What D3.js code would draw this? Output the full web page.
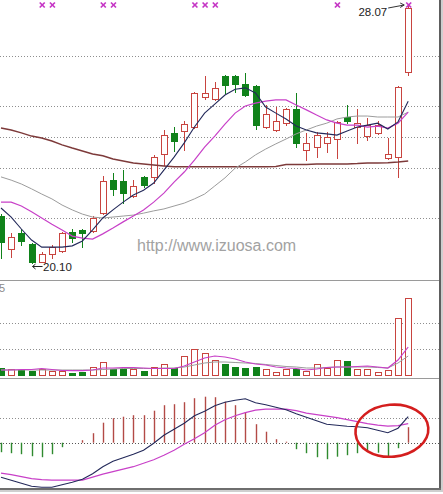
<!DOCTYPE html>
<html>
<head>
<meta charset="utf-8">
<script src="https://cdn.jsdelivr.net/npm/d3@7"></script>
<style>
  html, body { margin: 0; padding: 0; background: #fff; }
  svg { display: block; }
  text { font-family: Arial, "Liberation Sans", sans-serif; }
</style>
</head>
<body>
<svg id="chart" width="443" height="494"></svg>
<script>
// Daily candles (oldest first)
const openP  = [21.55,20.53,21.03,20.69,20.14,20.38,20.47,21.06,21.13,21.09,21.64,22.66,22.63,22.17,22.76,22.77,23.47,24.12,24.18,24.30,25.23,25.17,25.88,25.88,25.63,25.57,24.30,24.21,24.42,24.86,23.59,23.68,23.82,23.92,24.61,24.29,24.01,24.12,23.34,23.37,26.00];
const highP  = [21.60,21.03,21.15,20.72,20.44,20.66,21.05,21.15,21.14,21.55,22.79,22.88,22.97,22.66,22.79,23.44,24.21,24.30,24.50,25.37,25.89,25.69,25.90,25.90,25.97,25.59,24.97,24.92,24.88,25.35,24.12,24.15,24.15,24.48,24.98,24.86,24.58,24.50,23.96,25.57,28.07];
const lowP   = [20.25,20.29,20.66,20.10,20.12,20.25,20.45,20.75,20.59,21.06,21.62,22.20,21.95,22.15,22.45,22.57,23.13,23.56,23.59,24.28,25.18,25.15,25.35,25.38,25.27,24.24,24.28,24.19,24.36,23.68,23.28,23.37,23.53,23.33,24.43,23.81,23.90,24.10,23.32,22.76,25.91];
const closeP = [20.75,20.90,20.78,20.13,20.38,20.59,21.03,20.87,21.03,21.49,22.63,22.39,22.26,22.48,22.51,23.36,24.05,23.87,24.39,25.35,25.35,25.51,25.60,25.63,25.29,24.36,24.69,24.49,24.86,23.81,23.81,24.04,23.99,24.46,24.49,24.44,24.36,24.36,23.47,25.54,27.98];

// Price moving averages
const ma5  = [21.80,21.52,21.15,20.81,20.59,20.59,20.59,20.63,20.78,21.12,21.49,21.74,21.98,22.20,22.35,22.57,22.97,23.37,23.81,24.30,24.73,25.01,25.29,25.47,25.51,25.35,24.92,24.73,24.55,24.33,24.21,24.12,24.09,24.05,24.18,24.30,24.36,24.42,24.24,24.46,25.10];
const ma10 = [21.98,21.98,21.86,21.68,21.49,21.30,21.12,20.93,20.87,20.84,21.00,21.18,21.37,21.55,21.74,21.98,22.26,22.60,22.91,23.28,23.68,24.02,24.39,24.73,24.95,25.04,25.10,25.14,25.14,24.98,24.83,24.67,24.52,24.42,24.36,24.36,24.30,24.33,24.27,24.42,24.76];
const ma20 = [22.76,22.66,22.54,22.39,22.23,22.08,21.89,21.74,21.61,21.52,21.49,21.52,21.55,21.58,21.64,21.71,21.77,21.86,21.95,22.08,22.23,22.48,22.73,23.03,23.22,23.44,23.62,23.78,23.93,24.09,24.21,24.33,24.42,24.55,24.61,24.64,24.64,24.61,24.61,24.61,24.76];
const ma60 = [24.27,24.21,24.12,24.02,23.96,23.87,23.75,23.65,23.56,23.47,23.41,23.31,23.25,23.19,23.16,23.13,23.10,23.07,23.07,23.07,23.07,23.07,23.07,23.07,23.07,23.07,23.07,23.08,23.14,23.14,23.14,23.16,23.16,23.16,23.16,23.17,23.19,23.19,23.20,23.22,23.25];

// Volume (lots) and its averages
const volume  = [5600,4400,3800,3300,4400,3300,3300,1800,2500,6400,9800,4400,4400,4400,3300,6400,8500,5200,14800,20000,16700,11500,8500,6400,5200,6400,4400,2500,4400,4400,3300,8200,5200,11500,10800,4400,4400,2500,3800,43600,59000];
const volMa5  = [3850,3850,4230,4230,5000,4230,3460,3310,3310,3850,5380,5380,5770,5770,5380,5000,5000,5000,6920,10000,13080,14620,13850,12310,10000,8460,7690,6150,5380,5000,3850,4620,5770,6150,6150,6540,6920,6150,5380,11540,21540];
const volMa10 = [3850,3850,3850,3850,3850,3850,3850,3850,3850,3850,4230,4620,5000,5000,5000,5000,5380,5380,6150,7690,9230,10000,10000,9620,9230,8850,8080,7310,6540,6150,5380,5380,5770,6150,6150,6150,6150,5770,5380,9230,14620];

// MACD
const dif  = [-0.69,-0.75,-0.81,-0.87,-0.89,-0.89,-0.84,-0.79,-0.73,-0.62,-0.48,-0.37,-0.30,-0.23,-0.15,-0.01,0.15,0.27,0.39,0.54,0.63,0.74,0.81,0.85,0.88,0.80,0.76,0.71,0.66,0.58,0.51,0.44,0.37,0.35,0.33,0.32,0.30,0.25,0.20,0.29,0.52];
const dea  = [-0.61,-0.64,-0.68,-0.72,-0.74,-0.75,-0.75,-0.75,-0.75,-0.69,-0.63,-0.58,-0.53,-0.48,-0.41,-0.34,-0.25,-0.15,-0.03,0.08,0.20,0.35,0.46,0.54,0.60,0.65,0.67,0.67,0.67,0.64,0.59,0.56,0.53,0.50,0.46,0.42,0.38,0.35,0.33,0.34,0.38];
const macd = [-0.19,-0.21,-0.23,-0.27,-0.29,-0.23,-0.09,0,0.05,0.19,0.40,0.49,0.52,0.55,0.55,0.64,0.75,0.77,0.81,0.89,0.92,0.91,0.82,0.75,0.61,0.37,0.22,0.07,0.02,-0.13,-0.21,-0.29,-0.33,-0.28,-0.25,-0.21,-0.18,-0.20,-0.29,-0.11,0.31];

// Reference levels and signal days
const priceGrid = [26.49, 24.95, 23.99, 23.03, 21.49];
const volGrid = [20000, 40000];
const macdGrid = [0.5];
const signalDays = [4, 5, 10, 11, 19, 20, 21, 33, 40];
const volCornerLabel = "5";
const siteText = "http://www.izuosa.com";

const svg = d3.select("#chart");
const RIGHT = 439;
const UP = "#c8443f", DOWN = "#10821a";

const x  = d3.scaleLinear().domain([0, closeP.length - 1]).range([1.0, 408.2]);
const yP = d3.scaleLinear().domain([20.10, 28.07]).range([263, 5]);
const yV = d3.scaleLinear().domain([0, 72300]).range([375, 281]);
const yM = d3.scaleLinear().domain([-0.9, 1.28]).range([487.7, 378.7]);

const px = v => Math.round(v) + 0.5;

// ---- dotted reference lines
const grid = svg.append("g").attr("stroke", "#8e8e8e").attr("stroke-dasharray", "1,2").attr("stroke-width", 1);
priceGrid.forEach(p => grid.append("line").attr("x1", 0).attr("x2", RIGHT).attr("y1", px(yP(p))).attr("y2", px(yP(p))));
volGrid.forEach(v => grid.append("line").attr("x1", 0).attr("x2", RIGHT).attr("y1", px(yV(v))).attr("y2", px(yV(v))));
macdGrid.forEach(v => grid.append("line").attr("x1", 0).attr("x2", RIGHT).attr("y1", px(yM(v))).attr("y2", px(yM(v))));
svg.append("line").attr("x1", 0).attr("x2", RIGHT).attr("y1", px(yM(0))).attr("y2", px(yM(0)))
  .attr("stroke", "#555").attr("stroke-dasharray", "1,2");

// ---- panel separators
[280.5, 378.5].forEach(yy => svg.append("line").attr("x1", 0).attr("x2", RIGHT).attr("y1", yy).attr("y2", yy)
  .attr("stroke", "#9a9a9a").attr("stroke-width", 1));

svg.append("text").attr("x", -1).attr("y", 292).attr("font-size", 11).attr("fill", "#8a8a8a").text(volCornerLabel);

// ---- watermark
svg.append("text").attr("x", 137).attr("y", 251).attr("font-size", 16).attr("fill", "#a2a2a2").text(siteText);

// ---- candles
const cg = svg.append("g");
closeP.forEach((c, i) => {
  const o = openP[i], up = c >= o, col = up ? UP : DOWN;
  const cx = Math.round(x(i));
  cg.append("line").attr("x1", cx + 0.5).attr("x2", cx + 0.5)
    .attr("y1", Math.round(yP(highP[i]))).attr("y2", Math.round(yP(lowP[i])) + 1)
    .attr("stroke", col).attr("stroke-width", 1);
  const top = Math.round(yP(Math.max(o, c))), bot = Math.round(yP(Math.min(o, c)));
  cg.append("rect").attr("x", cx - 2.5).attr("width", 6)
    .attr("y", top + 0.5).attr("height", Math.max(bot - top, 1))
    .attr("fill", up ? "#fff" : col).attr("stroke", col).attr("stroke-width", 1);
});

// ---- moving averages
const line = d3.line().x((d, i) => x(i)).y(d => yP(d)).curve(d3.curveLinear);
[[ma60, "#7d3a3a", 1.5], [ma20, "#9c9c9c", 1], [ma10, "#c840c8", 1.2], [ma5, "#23295a", 1.1]].forEach(([arr, col, w]) =>
  svg.append("path").attr("d", line(arr)).attr("fill", "none").attr("stroke", col).attr("stroke-width", w));

// ---- signal marks along the top
const sg = svg.append("g").attr("stroke", "#c536c5").attr("stroke-width", 1.7);
signalDays.forEach(i => {
  const cx = x(i) + 0.5, cy = 5;
  sg.append("line").attr("x1", cx - 2.5).attr("y1", cy - 2.5).attr("x2", cx + 2.5).attr("y2", cy + 2.5);
  sg.append("line").attr("x1", cx - 2.5).attr("y1", cy + 2.5).attr("x2", cx + 2.5).attr("y2", cy - 2.5);
});

// ---- high / low annotations
const hi = d3.maxIndex(highP), lo = d3.minIndex(lowP);
const hx = x(hi), hy = yP(highP[hi]);
svg.append("text").attr("x", hx - 21).attr("y", hy + 11).attr("text-anchor", "end")
  .attr("font-size", 11.5).attr("fill", "#222").text(highP[hi].toFixed(2));
svg.append("path").attr("d", `M${hx - 20},${hy + 3} L${hx - 4},${hy} M${hx - 8},${hy - 2} L${hx - 4},${hy} L${hx - 8},${hy + 2.5}`)
  .attr("fill", "none").attr("stroke", "#333").attr("stroke-width", 1);

const lx = x(lo), ly = yP(lowP[lo]);
svg.append("path").attr("d", `M${lx + 11},${ly + 3.5} L${lx + 1},${ly + 3.5} M${lx + 4},${ly + 1} L${lx + 1},${ly + 3.5} L${lx + 4},${ly + 6}`)
  .attr("fill", "none").attr("stroke", "#222").attr("stroke-width", 1);
svg.append("text").attr("x", lx + 11.5).attr("y", ly + 7.5)
  .attr("font-size", 11.5).attr("fill", "#222").text(lowP[lo].toFixed(2));

// ---- volume bars
const vg = svg.append("g");
volume.forEach((v, i) => {
  const up = closeP[i] >= openP[i], col = up ? UP : DOWN;
  const cx = Math.round(x(i));
  const top = Math.round(yV(v)), base = Math.round(yV(0));
  vg.append("rect").attr("x", cx - 2.5).attr("width", 6)
    .attr("y", top + 0.5).attr("height", base - top)
    .attr("fill", up ? "#fff" : col).attr("stroke", col).attr("stroke-width", 1);
});
const vline = d3.line().x((d, i) => x(i)).y(d => yV(d));
svg.append("path").attr("d", vline(volMa10)).attr("fill", "none").attr("stroke", "#9a9a9a").attr("stroke-width", 1);
svg.append("path").attr("d", vline(volMa5)).attr("fill", "none").attr("stroke", "#c840c8").attr("stroke-width", 1.2);

// ---- MACD histogram and lines
const mg = svg.append("g").attr("stroke-width", 1.4);
macd.forEach((v, i) => {
  if (v === 0) return;
  const cx = Math.round(x(i)) + 0.5;
  mg.append("line").attr("x1", cx).attr("x2", cx).attr("y1", yM(0)).attr("y2", yM(v))
    .attr("stroke", v > 0 ? "#b34a46" : "#2f8a2f");
});
const mline = d3.line().x((d, i) => x(i)).y(d => yM(d));
svg.append("path").attr("d", mline(dea)).attr("fill", "none").attr("stroke", "#c840c8").attr("stroke-width", 1.2);
svg.append("path").attr("d", mline(dif)).attr("fill", "none").attr("stroke", "#23295a").attr("stroke-width", 1.1);

// ---- highlight around the latest crossover
svg.append("ellipse")
  .attr("transform", `translate(${x(38.4)},${yM(0.24)}) rotate(-5)`)
  .attr("rx", 36.5).attr("ry", 26)
  .attr("fill", "none").attr("stroke", "#d41e1e").attr("stroke-width", 2.6);

// ---- frame
svg.append("rect").attr("x", 441).attr("y", 0).attr("width", 2).attr("height", 492).attr("fill", "#cfcfcf");
svg.append("rect").attr("x", 0).attr("y", 490).attr("width", 443).attr("height", 2).attr("fill", "#cfcfcf");
svg.append("rect").attr("x", 439).attr("y", 0).attr("width", 2).attr("height", 490).attr("fill", "#5e5e5e");
svg.append("rect").attr("x", 0).attr("y", 488).attr("width", 441).attr("height", 2).attr("fill", "#6e6e6e");
</script>
</body>
</html>
